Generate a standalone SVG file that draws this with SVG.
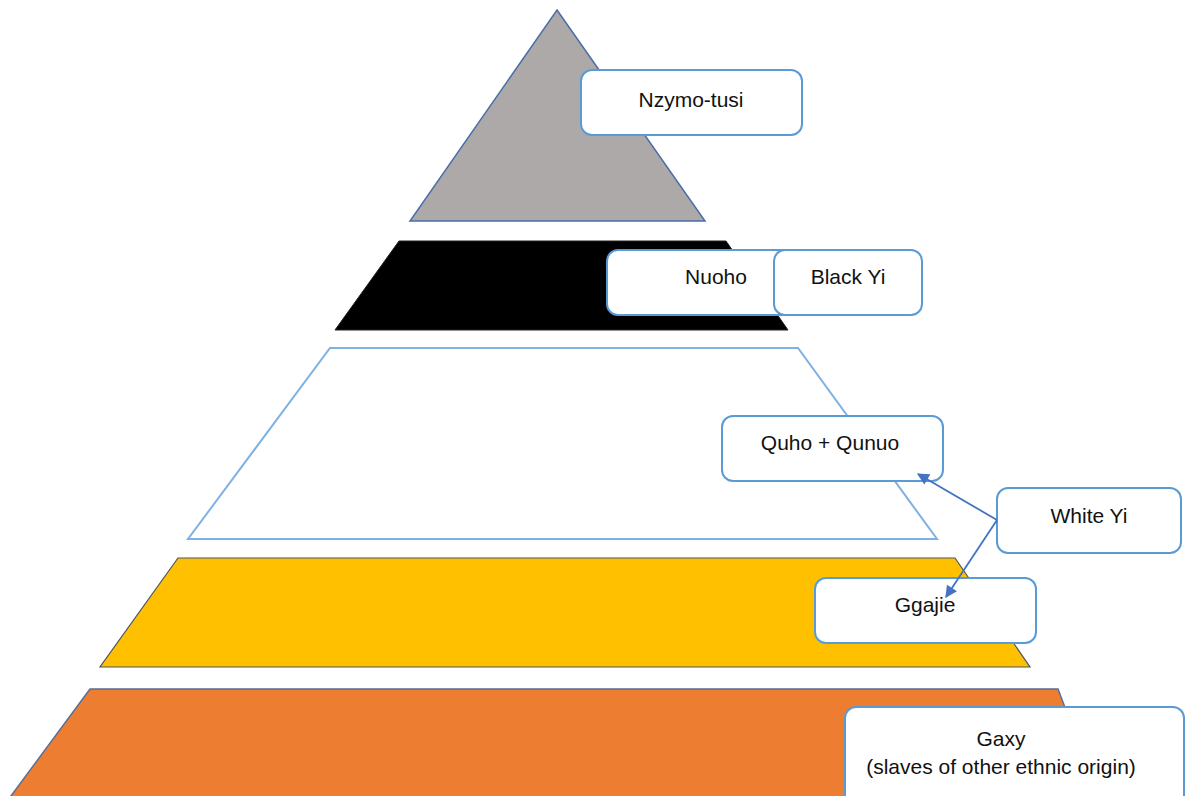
<svg xmlns="http://www.w3.org/2000/svg" width="1186" height="796" viewBox="0 0 1186 796">
<defs>
<style>
.box{fill:#fff;stroke:#5B9BD5;stroke-width:2}
.lbl{font-family:"Liberation Sans",Arial,sans-serif;font-size:21px;fill:#111;text-anchor:middle}
.conn{stroke:#4472C4;stroke-width:1.8;fill:none}
</style>
<marker id="ah" viewBox="0 0 10 10" refX="9" refY="5" markerWidth="14" markerHeight="12" orient="auto" markerUnits="userSpaceOnUse">
<path d="M0,0 L10,5 L0,10 z" fill="#4472C4"/>
</marker>
</defs>
<rect width="1186" height="796" fill="#fff"/>
<g id="tier-top"><polygon points="557,10 705,221 410,221" fill="#ADA9A8" stroke="#4A6EA8" stroke-width="1.5"/></g>
<g id="tier-black"><polygon points="399,241 726,241 788,330 335,330" fill="#000" stroke="#222" stroke-width="1"/></g>
<g id="tier-white"><polygon points="330,348 798,348 937,539 188,539" fill="#fff" stroke="#7FB1E2" stroke-width="2"/></g>
<g id="tier-yellow"><polygon points="178,558 955,558 1030,667 100,667" fill="#FFC000" stroke="#4A5566" stroke-width="1.2"/></g>
<g id="tier-orange"><polygon points="90,689 1058,689 1100,800 8,800" fill="#ED7D31" stroke="#5A6E96" stroke-width="1.5"/></g>
<g id="n-nzymo"><rect class="box" x="581" y="70" width="221" height="65" rx="11"/><text class="lbl" x="691" y="107">Nzymo-tusi</text></g>
<g id="n-nuoho"><rect class="box" x="607" y="250" width="221" height="65" rx="11"/><text class="lbl" x="716" y="284">Nuoho</text></g>
<g id="n-blackyi"><rect class="box" x="774" y="250" width="148" height="65" rx="11"/><text class="lbl" x="848" y="284">Black Yi</text></g>
<g id="n-quho"><rect class="box" x="722" y="416" width="221" height="65" rx="11"/><text class="lbl" x="830" y="450">Quho + Qunuo</text></g>
<g id="n-whiteyi"><rect class="box" x="997" y="488" width="184" height="65" rx="11"/><text class="lbl" x="1089" y="523">White Yi</text></g>
<g id="n-ggajie"><rect class="box" x="815" y="578" width="221" height="65" rx="11"/><text class="lbl" x="925" y="612">Ggajie</text></g>
<g id="n-gaxy"><rect class="box" x="845" y="707" width="339" height="100" rx="11"/><text class="lbl" x="1001" y="746">Gaxy</text><text class="lbl" x="1001" y="774">(slaves of other ethnic origin)</text></g>
<g id="connectors">
<line class="conn" x1="997" y1="520" x2="918" y2="474" marker-end="url(#ah)"/>
<line class="conn" x1="997" y1="520" x2="946" y2="597" marker-end="url(#ah)"/>
</g>
</svg>
